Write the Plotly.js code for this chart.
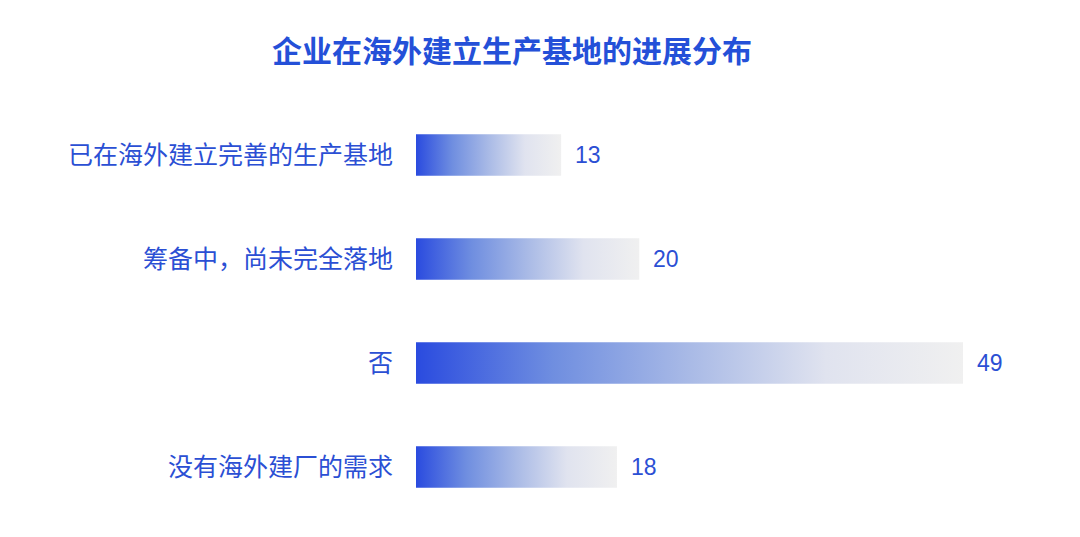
<!DOCTYPE html>
<html>
<head>
<meta charset="utf-8">
<script src="https://cdn.plot.ly/plotly-3.0.1.min.js"></script>
<style>
  html, body { margin: 0; padding: 0; background: #fff; }
  #chart { width: 1080px; height: 537px; }
</style>
</head>
<body>
<div id="chart"></div>
<script>
const categories = [
  '已在海外建立完善的生产基地',
  '筹备中，尚未完全落地',
  '否',
  '没有海外建厂的需求',
];
const counts = [13, 20, 49, 18];

const blue = '#2b4fd4';
const fontFamily = '"Noto Sans CJK SC", "Noto Sans", sans-serif';
const numFont = '"Liberation Sans", Arial, sans-serif';

const trace = {
  type: 'bar',
  orientation: 'h',
  y: categories,
  x: counts,
  width: 0.4,
  marker: { color: '#2a4bdf', line: { width: 0 } },
  hoverinfo: 'none',
};

const annotations = counts.map((v, i) => ({
  x: v,
  y: categories[i],
  xref: 'x',
  yref: 'y',
  text: String(v),
  showarrow: false,
  xanchor: 'left',
  xshift: 12,
  font: { family: numFont, size: 23, color: blue },
}));

const layout = {
  width: 1080,
  height: 537,
  paper_bgcolor: '#fff',
  plot_bgcolor: '#fff',
  margin: { l: 416, r: 50, t: 103, b: 18 },
  title: {
    text: '<b>企业在海外建立生产基地的进展分布</b>',
    font: { family: fontFamily, size: 30, color: '#2450d8' },
    xref: 'container',
    x: 0.474,
    xanchor: 'center',
    yref: 'container',
    y: 0.905,
    yanchor: 'middle',
  },
  xaxis: {
    range: [0, 55],
    visible: false,
    fixedrange: true,
  },
  yaxis: {
    autorange: 'reversed',
    showgrid: false,
    zeroline: false,
    showline: false,
    ticks: 'outside',
    ticklen: 17,
    tickcolor: 'rgba(0,0,0,0)',
    tickfont: { family: fontFamily, size: 25, color: blue },
    fixedrange: true,
  },
  annotations: annotations,
  showlegend: false,
};

const config = { displayModeBar: false, staticPlot: true };

// bars fade from blue to light grey, done with an svg gradient
function applyGradient(gd) {
  const svg = gd.querySelector('.main-svg');
  const defs = svg.querySelector('defs');
  const ns = 'http://www.w3.org/2000/svg';
  const grad = document.createElementNS(ns, 'linearGradient');
  grad.setAttribute('id', 'barGrad');
  grad.setAttribute('x1', '0');
  grad.setAttribute('x2', '1');
  grad.setAttribute('y1', '0');
  grad.setAttribute('y2', '0');
  [
    ['0', '#2a4bdf'],
    ['0.25', '#6f8ee0'],
    ['0.5', '#a9bae6'],
    ['0.75', '#e0e3ef'],
    ['1', '#f0f0f0'],
  ].forEach(([off, col]) => {
    const stop = document.createElementNS(ns, 'stop');
    stop.setAttribute('offset', off);
    stop.setAttribute('stop-color', col);
    grad.appendChild(stop);
  });
  defs.appendChild(grad);
  gd.querySelectorAll('.trace.bars .point path').forEach((p) => {
    p.style.fill = 'url(#barGrad)';
  });
}

Plotly.newPlot('chart', [trace], layout, config).then(applyGradient);
</script>
</body>
</html>
